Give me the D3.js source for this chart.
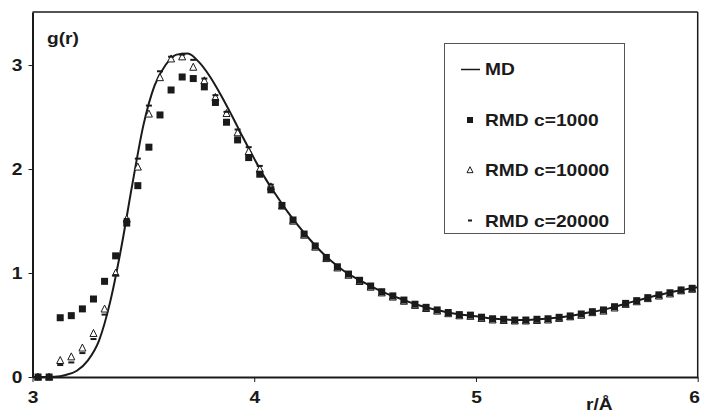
<!DOCTYPE html>
<html>
<head>
<meta charset="utf-8">
<script src="https://cdn.jsdelivr.net/npm/d3@7"></script>
<style>
  html, body { margin: 0; padding: 0; background: #fff; }
  svg { display: block; }
</style>
</head>
<body>
<svg id="chart" width="701" height="414"></svg>
<script>
// Radial distribution function g(r): MD reference curve and three RMD runs.

// MD curve sampled every 0.05 Å from 3.00 to 6.00 Å
const mdR = d3.range(61).map(i => +(3 + i * 0.05).toFixed(3));
const mdG = [
  0, 0, 0.003, 0.02, 0.06, 0.16, 0.35, 0.72, 1.24, 1.85,
  2.42, 2.80, 3.00, 3.10, 3.11, 3.03, 2.89, 2.71, 2.51, 2.30,
  2.10, 1.91, 1.745, 1.59, 1.45, 1.325, 1.21, 1.11, 1.027, 0.96,
  0.902, 0.847, 0.80, 0.76, 0.72, 0.685, 0.656, 0.632, 0.611, 0.597,
  0.585, 0.567, 0.557, 0.551, 0.548, 0.551, 0.557, 0.567, 0.58, 0.596,
  0.617, 0.636, 0.66, 0.69, 0.72, 0.748, 0.777, 0.80, 0.824, 0.845, 0.862
];

// RMD histograms at bin centres 3.025 ... 5.975 Å
const binR = d3.range(60).map(i => +(3.025 + i * 0.05).toFixed(3));
const rmd1000 = [
  0, 0, 0.57, 0.59, 0.655, 0.75, 0.92, 1.165, 1.48, 1.84,
  2.21, 2.52, 2.76, 2.885, 2.87, 2.79, 2.64, 2.45, 2.28, 2.11,
  1.95, 1.80, 1.65, 1.51, 1.375, 1.26, 1.15, 1.06, 0.99, 0.93,
  0.875, 0.82, 0.78, 0.74, 0.70, 0.67, 0.645, 0.62, 0.60, 0.595,
  0.575, 0.56, 0.555, 0.548, 0.548, 0.555, 0.56, 0.574, 0.587, 0.606,
  0.628, 0.645, 0.676, 0.708, 0.734, 0.763, 0.79, 0.81, 0.837, 0.853
];
const rmd10000 = [
  0, 0, 0.16, 0.195, 0.28, 0.42, 0.655, 1.0, 1.52, 2.02,
  2.53, 2.88, 3.06, 3.08, 2.98, 2.85, 2.69, 2.535, 2.35, 2.17,
  2.00, 1.83, 1.645, 1.50, 1.365, 1.25, 1.14, 1.05, 0.98, 0.92,
  0.865, 0.81, 0.77, 0.73, 0.69, 0.66, 0.635, 0.61, 0.59, 0.585,
  0.565, 0.55, 0.545, 0.54, 0.54, 0.545, 0.55, 0.565, 0.58, 0.595,
  0.62, 0.635, 0.665, 0.70, 0.725, 0.755, 0.78, 0.80, 0.83, 0.845
];
const rmd20000 = [
  0, 0, 0.115, 0.14, 0.23, 0.365, 0.60, 0.98, 1.52, 2.10,
  2.61, 2.94, 3.08, 3.10, 3.05, 2.87, 2.71, 2.55, 2.38, 2.21,
  2.03, 1.85, 1.67, 1.52, 1.385, 1.27, 1.16, 1.07, 0.995, 0.935,
  0.88, 0.825, 0.785, 0.745, 0.705, 0.672, 0.648, 0.622, 0.605, 0.598,
  0.578, 0.563, 0.557, 0.55, 0.55, 0.557, 0.563, 0.577, 0.59, 0.61,
  0.632, 0.648, 0.68, 0.712, 0.738, 0.767, 0.793, 0.813, 0.84, 0.856
];

const xTicks = [3, 4, 5, 6];
const yTicks = [0, 1, 2, 3];
const legendLabels = ["MD", "RMD c=1000", "RMD c=10000", "RMD c=20000"];
const xTitle = "r/Å";
const yTitle = "g(r)";

const ink = "#1a1a1a";
const font = "'Liberation Sans', Arial, Helvetica, sans-serif";
const stretch = "scale(1.2,1)";

const svg = d3.select("#chart");
const margin = { left: 32.5, right: 3.3, top: 12, bottom: 37 };
const W = 701, H = 414;

const x = d3.scaleLinear().domain([3, 6]).range([margin.left, W - margin.right]);
const y = d3.scaleLinear().domain([0, 3.51]).range([H - margin.bottom, margin.top]);

// Frame: thin top and right edges
svg.append("line")
  .attr("x1", x(3)).attr("x2", x(6)).attr("y1", y(3.51)).attr("y2", y(3.51))
  .attr("stroke", ink).attr("stroke-width", 1.5);
svg.append("line")
  .attr("x1", x(6)).attr("x2", x(6)).attr("y1", y(3.51)).attr("y2", y(0))
  .attr("stroke", ink).attr("stroke-width", 1.5);

// Axes; tick labels are widened horizontally, and a label that would run past
// the right edge of the page is nudged back inside it
function styleAxis(g) {
  g.attr("font-family", font).attr("font-size", 16).attr("font-weight", "bold").attr("color", ink);
  g.select(".domain").attr("stroke-width", 2);
  g.selectAll(".tick line").attr("stroke-width", 1);
  g.selectAll(".tick text").each(function () {
    const t = d3.select(this);
    const tx = +t.attr("x") || 0;
    t.attr("x", 0).attr("transform", `translate(${tx},0) ${stretch}`).attr("fill", ink);
  });
}

const xAxis = svg.append("g")
  .attr("transform", `translate(0,${y(0)})`)
  .call(d3.axisBottom(x).tickValues(xTicks).tickFormat(d3.format("d"))
    .tickSize(5).tickSizeOuter(0).tickPadding(9.5))
  .call(styleAxis);
xAxis.selectAll(".tick text")
  .filter(d => d === 6)
  .attr("transform", `translate(-3.5,0) ${stretch}`);

svg.append("g")
  .attr("transform", `translate(${x(3)},0)`)
  .call(d3.axisLeft(y).tickValues(yTicks).tickFormat(d3.format("d"))
    .tickSize(4).tickSizeOuter(0).tickPadding(6))
  .call(styleAxis);

// Axis titles
function label(txt, px, py, anchor) {
  svg.append("text")
    .attr("transform", `translate(${px},${py}) ${stretch}`)
    .attr("text-anchor", anchor || "start")
    .attr("font-family", font).attr("font-size", 16).attr("font-weight", "bold")
    .attr("fill", ink)
    .text(txt);
}
label(yTitle, 47, 44);
label(xTitle, 586, 410);

// MD curve
const line = d3.line()
  .x((d, i) => x(mdR[i]))
  .y(d => y(d))
  .curve(d3.curveMonotoneX);

svg.append("path")
  .datum(mdG)
  .attr("d", line)
  .attr("fill", "none")
  .attr("stroke", ink)
  .attr("stroke-width", 2);

// Marker shapes
const triPath = (cx, cy, s) =>
  `M${cx},${cy - s * 0.55}L${cx + s / 2},${cy + s * 0.45}L${cx - s / 2},${cy + s * 0.45}Z`;

// c = 10000 : open triangles
svg.append("g").selectAll("path")
  .data(rmd10000)
  .join("path")
  .attr("d", (d, i) => triPath(x(binR[i]), y(d), 7))
  .attr("fill", "#fff")
  .attr("stroke", ink)
  .attr("stroke-width", 1);

// c = 20000 : short dashes
svg.append("g").selectAll("rect")
  .data(rmd20000)
  .join("rect")
  .attr("x", (d, i) => x(binR[i]) - 3)
  .attr("y", d => y(d) - 1)
  .attr("width", 6)
  .attr("height", 2)
  .attr("fill", ink);

// c = 1000 : filled squares
svg.append("g").selectAll("rect")
  .data(rmd1000)
  .join("rect")
  .attr("x", (d, i) => x(binR[i]) - 3.5)
  .attr("y", d => y(d) - 3.5)
  .attr("width", 7)
  .attr("height", 7)
  .attr("fill", ink);

// Legend
const lg = svg.append("g");
lg.append("rect")
  .attr("x", 444.5).attr("y", 43.5).attr("width", 180).attr("height", 190)
  .attr("fill", "#fff").attr("stroke", "#555").attr("stroke-width", 1);

const rows = [75, 125.5, 176, 226.5];
const textX = 485;
const mx = 470;

lg.append("line")
  .attr("x1", 461).attr("x2", 480).attr("y1", rows[0] - 5.5).attr("y2", rows[0] - 5.5)
  .attr("stroke", ink).attr("stroke-width", 1.5);
lg.append("rect")
  .attr("x", mx - 3).attr("y", rows[1] - 8.5).attr("width", 6).attr("height", 6)
  .attr("fill", ink);
lg.append("path")
  .attr("d", triPath(mx, rows[2] - 6, 6))
  .attr("fill", "#fff").attr("stroke", ink).attr("stroke-width", 1);
lg.append("rect")
  .attr("x", mx - 2).attr("y", rows[3] - 7).attr("width", 4).attr("height", 2)
  .attr("fill", ink);

legendLabels.forEach((t, i) => {
  lg.append("text")
    .attr("transform", `translate(${textX},${rows[i]}) ${stretch}`)
    .attr("font-family", font).attr("font-size", 16).attr("font-weight", "bold")
    .attr("fill", ink)
    .text(t);
});
</script>
</body>
</html>
